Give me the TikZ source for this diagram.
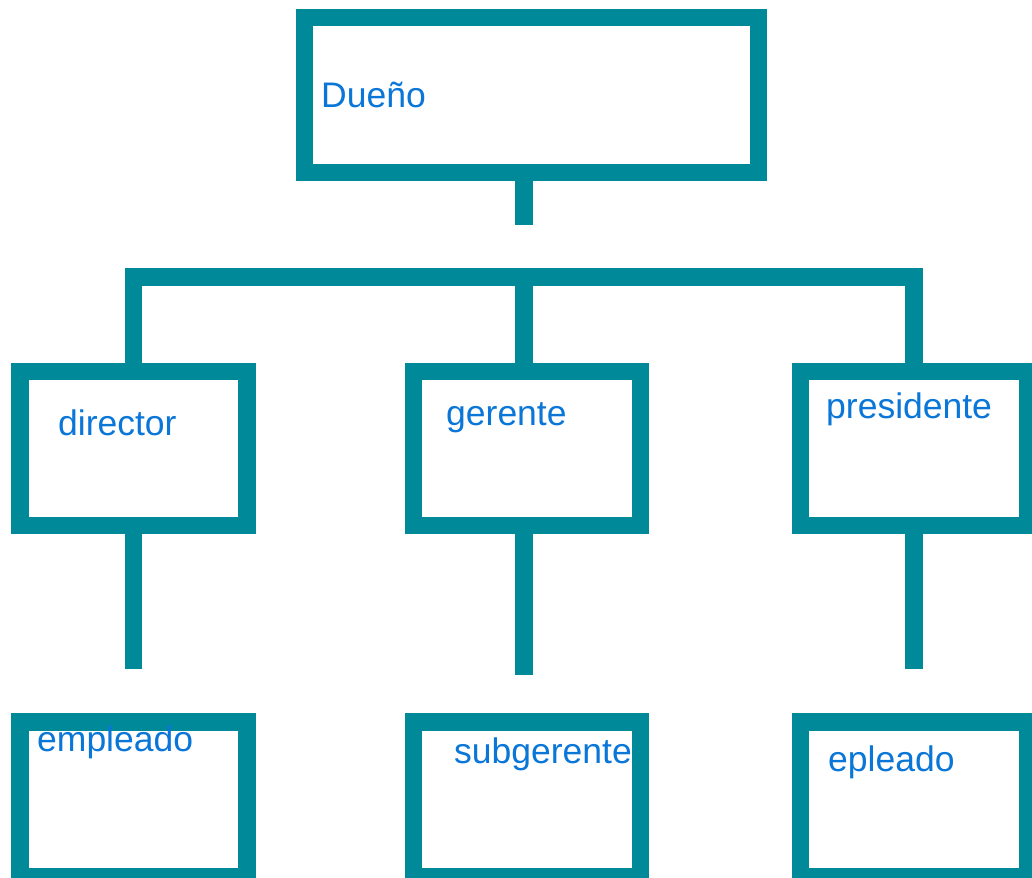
\documentclass[tikz,border=0pt]{standalone}
\usepackage{fontspec}
\setmainfont{Liberation Sans}
\usepackage{tikz}

\definecolor{marco}{RGB}{0,138,153}
\definecolor{letra}{RGB}{10,118,215}

\begin{document}
\begin{tikzpicture}[x=1pt,y=-1pt,
		caja/.style={rectangle,draw=marco,line width=17.5pt,minimum width=227pt,minimum height=154pt,inner sep=0pt},
		texto/.style={anchor=base west,inner sep=0pt,text=letra,font=\fontsize{35.5}{42}\selectfont},
		linea/.style={draw=marco,line width=17.5pt,line join=miter}]
		\useasboundingbox (0,0) rectangle (1032,877);
		% cajas
		\node [caja,minimum width=454pt,minimum height=155pt] (dueno) at (531.5,95) {};
		\node [caja] (director) at (133.5,448.5) {};
		\node [caja] (gerente) at (527,448.5) {};
		\node [caja] (presidente) at (914,448.5) {};
		\node [caja,minimum height=155pt] (empleado) at (133.5,799.5) {};
		\node [caja,minimum height=155pt] (subgerente) at (527,799.5) {};
		\node [caja,minimum height=155pt] (epleado) at (914,799.5) {};
		% textos
		\node [texto] (t-dueno) at (321,107.5) {Dueño};
		\node [texto] (t-director) at (58,435.5) {director};
		\node [texto] (t-gerente) at (446,425.5) {gerente};
		\node [texto] (t-presidente) at (826,418.5) {presidente};
		\node [texto] (t-empleado) at (37,751.5) {empleado};
		\node [texto] (t-subgerente) at (454,763.5) {subgerente};
		\node [texto] (t-epleado) at (828,771.5) {epleado};
		% conectores
		\coordinate (c-dueno) at (524,225);
		\coordinate (c-barra) at (524,277);
		\coordinate (c-director) at (133.5,669);
		\coordinate (c-gerente) at (524,675);
		\coordinate (c-presidente) at (914,669);
		\draw [linea] (dueno.south -| c-dueno) -- (c-dueno);
		\draw [linea] (director.north) |- (c-barra) -| (presidente.north);
		\draw [linea] (c-barra) -- (c-barra |- gerente.north);
		\draw [linea] (director.south) -- (c-director);
		\draw [linea] (c-gerente |- gerente.south) -- (c-gerente);
		\draw [linea] (presidente.south) -- (c-presidente);
\end{tikzpicture}
\end{document}
